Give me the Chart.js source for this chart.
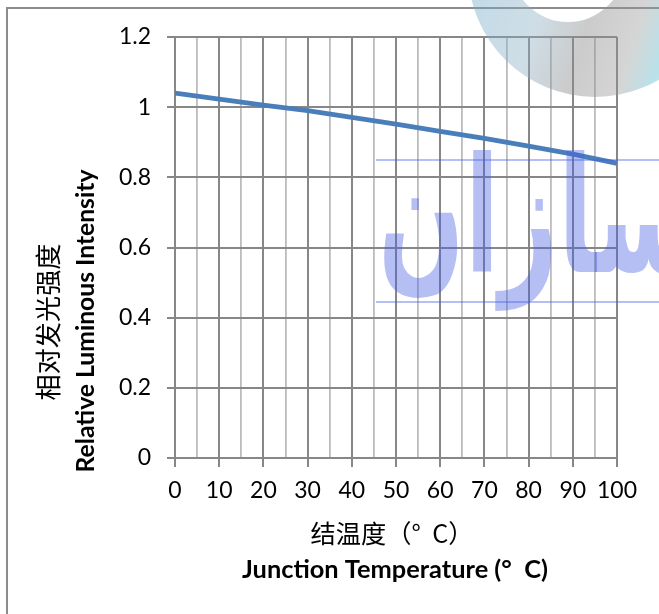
<!DOCTYPE html>
<html><head><meta charset="utf-8">
<script src="https://cdn.jsdelivr.net/npm/chart.js@4"></script>
<style>html,body{margin:0;padding:0;background:#fff}#wrap{width:659px;height:614px;position:relative}</style>
</head><body><div id="wrap"><canvas id="c" width="659" height="614"></canvas></div>
<script>
const temperatures = [0, 10, 20, 30, 40, 50, 60, 70, 80, 90, 100];
const intensity = [1.040, 1.023, 1.006, 0.990, 0.971, 0.952, 0.931, 0.911, 0.889, 0.866, 0.840];
const yTitleLines = ['相对发光强度', 'Relative Luminous Intensity'];
const xTitleLines = ['结温度（°  C）', 'Junction Temperature (°  C)'];
const watermarkText = 'سازان';

const MAJOR = '#878787', MINOR = '#bcbcbc';
const tickFont = {family: 'Lato, "Open Sans", sans-serif', size: 23};

const decor = {
  id: 'decor',
  beforeDraw(chart) {
    const ctx = chart.ctx;
    ctx.save();
    ctx.fillStyle = '#fff';
    ctx.fillRect(0, 0, chart.width, chart.height);
    ctx.strokeStyle = '#8c8c8c';
    ctx.lineWidth = 2;
    ctx.beginPath();
    ctx.moveTo(7, 614); ctx.lineTo(7, 8); ctx.lineTo(659, 8);
    ctx.stroke();
    ctx.restore();
  },
  afterDraw(chart) {
    const ctx = chart.ctx;
    ctx.save();
    ctx.fillStyle = '#000';
    ctx.textAlign = 'center';
    ctx.textBaseline = 'middle';
    function fitText(txt, font, size, target) {
      ctx.font = font.replace('SZ', size + 'px');
      const w = ctx.measureText(txt).width;
      const s = size * target / w;
      ctx.font = font.replace('SZ', s.toFixed(2) + 'px');
    }
    ctx.save();
    ctx.translate(48, 322);
    ctx.rotate(-Math.PI / 2);
    fitText(yTitleLines[0], 'SZ "Noto Sans CJK SC"', 26, 157);
    ctx.fillText(yTitleLines[0], 0, 0);
    ctx.restore();
    ctx.save();
    ctx.translate(86, 321);
    ctx.rotate(-Math.PI / 2);
    fitText(yTitleLines[1], 'bold SZ Lato', 22, 303);
    ctx.fillText(yTitleLines[1], 0, 0);
    ctx.restore();
    fitText(xTitleLines[0], 'SZ "Noto Sans CJK SC"', 26, 163);
    ctx.fillText(xTitleLines[0], 392, 533);
    fitText(xTitleLines[1], 'bold SZ Lato', 22, 306);
    ctx.fillText(xTitleLines[1], 395, 570);

    // watermark logo (ring)
    const g = ctx.createLinearGradient(470, 0, 659, 60);
    g.addColorStop(0, 'rgba(110,170,200,0.42)');
    g.addColorStop(0.35, 'rgba(140,175,195,0.42)');
    g.addColorStop(0.6, 'rgba(140,140,140,0.45)');
    g.addColorStop(0.85, 'rgba(150,150,150,0.40)');
    g.addColorStop(1, 'rgba(90,185,205,0.42)');
    ctx.fillStyle = g;
    ctx.beginPath();
    ctx.arc(595, -30, 127, 0, Math.PI * 2);
    ctx.arc(568, -35, 57, 0, Math.PI * 2, true);
    ctx.fill('evenodd');

    // watermark text
    ctx.fillStyle = 'rgba(70,95,225,0.40)';
    ctx.fillRect(376, 159, 283, 2);
    ctx.fillRect(376, 301, 283, 2);
    ctx.font = 'bold 160px "DejaVu Sans"';
    ctx.direction = 'rtl';
    ctx.textAlign = 'left';
    ctx.textBaseline = 'alphabetic';
    const w = ctx.measureText(watermarkText).width;
    const sx = 318 / w;
    ctx.translate(378, 272);
    ctx.scale(sx, 1);
    ctx.fillText(watermarkText, 0, 0);
    ctx.restore();
  }
};

new Chart(document.getElementById('c'), {
  type: 'line',
  data: {
    datasets: [{
      data: temperatures.map((t, i) => ({x: t, y: intensity[i]})),
      borderColor: '#4a7ebb',
      borderWidth: 4.8,
      pointRadius: 0,
      tension: 0,
      fill: false
    }]
  },
  options: {
    responsive: false,
    animation: false,
    devicePixelRatio: 1,
    layout: {padding: {top: 37, right: 42, left: 0, bottom: 0}},
    plugins: {legend: {display: false}, tooltip: {enabled: false}, title: {display: false}},
    scales: {
      x: {
        type: 'linear', min: 0, max: 100,
        afterFit(s) { s.height = 156; },
        ticks: {
          stepSize: 5, autoSkip: false, maxRotation: 0, color: '#000', font: tickFont, padding: 10,
          callback: v => (v % 10 === 0 ? String(v) : '')
        },
        grid: {
          color: c => (c.tick && c.tick.value % 10 === 0 ? MAJOR : MINOR),
          lineWidth: c => (c.tick && c.tick.value % 10 === 0 ? 2 : 1.8),
          tickColor: c => (c.tick && c.tick.value % 10 === 0 ? MAJOR : 'rgba(0,0,0,0)'),
          tickLength: 9
        },
        border: {display: true, color: MAJOR, width: 2}
      },
      y: {
        min: 0, max: 1.2,
        afterFit(s) { s.width = 175; },
        ticks: {
          stepSize: 0.2, color: '#000', font: tickFont, padding: 16,
          callback: v => String(Math.round(v * 10) / 10)
        },
        grid: {color: MAJOR, lineWidth: 2, tickLength: 8, tickColor: MAJOR},
        border: {display: true, color: MAJOR, width: 2}
      }
    }
  },
  plugins: [decor]
});
</script></body></html>
